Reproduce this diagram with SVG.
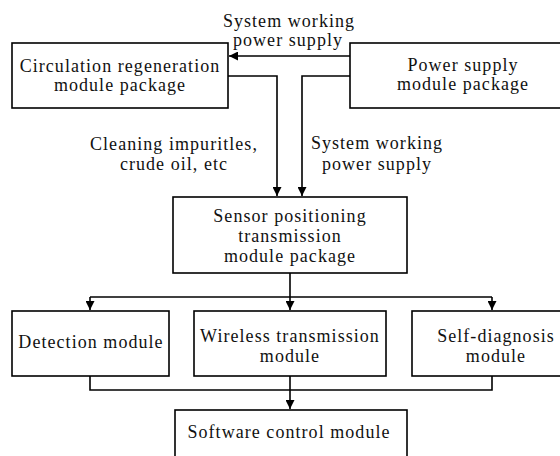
<svg xmlns="http://www.w3.org/2000/svg" width="560" height="456" viewBox="0 0 560 456">
<style>
.box{fill:#fff;stroke:#000;stroke-width:1.6}
.ln{fill:none;stroke:#000;stroke-width:1.6}
text{font-family:"Liberation Serif","Times New Roman",serif;font-size:18px;fill:#111;letter-spacing:1.05px}
.c{text-anchor:middle}
</style>
<defs>
<marker id="ah" viewBox="0 0 10 10" refX="10" refY="5" markerWidth="9" markerHeight="9" markerUnits="userSpaceOnUse" orient="auto">
<path d="M0,0 L10,5 L0,10 z" fill="#000"/>
</marker>
</defs>
<rect width="560" height="456" fill="#fff"/>
<g id="connectors">
<path class="ln" d="M350,56 H229" marker-end="url(#ah)"/>
<path class="ln" d="M228,76 H277 V196" marker-end="url(#ah)"/>
<path class="ln" d="M350,76 H302 V196" marker-end="url(#ah)"/>
<path class="ln" d="M290,273 V297"/>
<path class="ln" d="M90,297 H492"/>
<path class="ln" d="M90,297 V310" marker-end="url(#ah)"/>
<path class="ln" d="M290,297 V310" marker-end="url(#ah)"/>
<path class="ln" d="M492,297 V310" marker-end="url(#ah)"/>
<path class="ln" d="M90,376 V390 H492 V376"/>
<path class="ln" d="M290,376 V409" marker-end="url(#ah)"/>
<text class="c" x="289" y="27">System working</text>
<text class="c" x="288" y="46">power supply</text>
<text class="c" x="174" y="150">Cleaning impuritles,</text>
<text class="c" x="174" y="170">crude oil, etc</text>
<text class="c" x="377" y="149">System working</text>
<text class="c" x="377" y="170">power supply</text>
</g>
<g id="circulation">
<rect class="box" x="12" y="43" width="216" height="65"/>
<text class="c" x="120" y="72">Circulation regeneration</text>
<text class="c" x="120" y="91">module package</text>
</g>
<g id="power">
<rect class="box" x="350" y="43" width="226" height="65"/>
<text class="c" x="463" y="71">Power supply</text>
<text class="c" x="463" y="90">module package</text>
</g>
<g id="sensor">
<rect class="box" x="173" y="197" width="234" height="76"/>
<text class="c" x="290" y="222">Sensor positioning</text>
<text class="c" x="290" y="242">transmission</text>
<text class="c" x="290" y="262">module package</text>
</g>
<g id="detection">
<rect class="box" x="12" y="311" width="157" height="65"/>
<text class="c" x="91" y="348">Detection module</text>
</g>
<g id="wireless">
<rect class="box" x="194" y="311" width="192" height="65"/>
<text class="c" x="290" y="342">Wireless transmission</text>
<text class="c" x="290" y="362">module</text>
</g>
<g id="selfdiag">
<rect class="box" x="412" y="311" width="160" height="65"/>
<text class="c" x="496" y="342">Self-diagnosis</text>
<text class="c" x="496" y="362">module</text>
</g>
<g id="software">
<rect class="box" x="175" y="410" width="232" height="60"/>
<text class="c" x="289" y="438">Software control module</text>
</g>
</svg>
